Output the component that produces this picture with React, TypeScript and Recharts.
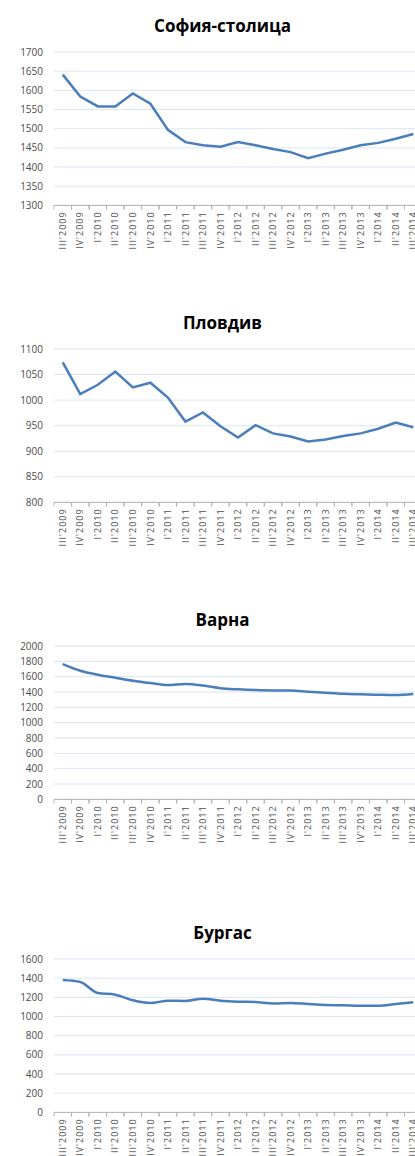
import { CartesianGrid, Line, LineChart, XAxis, YAxis } from "recharts";

const quarters = [
  "III'2009", "IV'2009",
  "I'2010", "II'2010", "III'2010", "IV'2010",
  "I'2011", "II'2011", "III'2011", "IV'2011",
  "I'2012", "II'2012", "III'2012", "IV'2012",
  "I'2013", "II'2013", "III'2013", "IV'2013",
  "I'2014", "II'2014", "III'2014"
];

const sofia = [1641, 1584, 1558, 1558, 1592, 1565, 1497, 1465, 1457, 1453, 1465, 1457, 1447, 1439, 1423, 1435, 1445, 1457, 1463, 1474, 1486];
const plovdiv = [1074, 1012, 1030, 1056, 1025, 1034, 1005, 958, 976, 949, 927, 951, 935, 929, 919, 923, 930, 935, 944, 956, 947];
const varna = [1765, 1678, 1626, 1587, 1548, 1517, 1490, 1505, 1485, 1450, 1435, 1425, 1420, 1420, 1405, 1390, 1376, 1370, 1365, 1362, 1375];
const burgas = [1381, 1360, 1245, 1228, 1169, 1141, 1165, 1162, 1186, 1165, 1155, 1151, 1137, 1141, 1130, 1120, 1117, 1113, 1113, 1130, 1148];

const sofiaTicks = [1300, 1350, 1400, 1450, 1500, 1550, 1600, 1650, 1700];
const plovdivTicks = [800, 850, 900, 950, 1000, 1050, 1100];
const varnaTicks = [0, 200, 400, 600, 800, 1000, 1200, 1400, 1600, 1800, 2000];
const burgasTicks = [0, 200, 400, 600, 800, 1000, 1200, 1400, 1600];

const LINE = "#4a7ebb";
const GRID = "#dbe5f1";
const AXIS = "#b3b3b3";
const LABEL = "#4d4d4d";
const STEP = 17.5;

// Excel-style category tick: marks sit between categories, label rotated
function QuarterTick(props: any) {
  const { x, y, payload } = props;
  return (
    <g>
      <line x1={x - STEP / 2} y1={y} x2={x - STEP / 2} y2={y + 4} stroke={AXIS} />
      <line x1={x + STEP / 2} y1={y} x2={x + STEP / 2} y2={y + 4} stroke={AXIS} />
      <text
        x={x}
        y={y + 6}
        transform={`rotate(-90, ${x}, ${y + 6})`}
        textAnchor="end"
        dy="0.35em"
        fill={LABEL}
        fontSize={9}
        letterSpacing={1}
        fontFamily="Open Sans"
      >
        {payload.value}
      </text>
    </g>
  );
}

function Panel({ title, values, ticks, plotTop, curve }: {
  title: string;
  values: number[];
  ticks: number[];
  plotTop: number;
  curve: "linear" | "monotone";
}) {
  const data = quarters.map((q, i) => ({ q, v: values[i] }));
  return (
    <>
      <div
        style={{
          position: "absolute",
          left: 0,
          width: 445,
          top: plotTop - 26 - 12,
          height: 24,
          lineHeight: "24px",
          textAlign: "center",
          fontFamily: "Open Sans",
          fontWeight: 700,
          fontSize: 17,
          color: "#000"
        }}
      >
        {title}
      </div>
      <div style={{ position: "absolute", left: 0, top: plotTop - 10 }}>
        <LineChart width={422} height={213.4} data={data} margin={{ top: 10, right: 0, left: 0, bottom: 0 }}>
          <CartesianGrid horizontal vertical={false} stroke={GRID} />
          <XAxis
            dataKey="q"
            interval={0}
            height={50}
            padding={{ left: STEP / 2, right: STEP / 2 }}
            axisLine={{ stroke: AXIS }}
            tickLine={false}
            tickSize={0}
            tickMargin={0}
            tick={<QuarterTick />}
          />
          <YAxis
            width={54}
            domain={[ticks[0], ticks[ticks.length - 1]]}
            ticks={ticks}
            interval={0}
            axisLine={false}
            tickLine={false}
            tickSize={0}
            tickMargin={11}
            tick={{ fill: LABEL, fontSize: 10, fontFamily: "Open Sans" }}
          />
          <Line
            type={curve}
            dataKey="v"
            stroke={LINE}
            strokeWidth={2.5}
            dot={false}
            isAnimationActive={false}
          />
        </LineChart>
      </div>
    </>
  );
}

export default function App() {
  return (
    <div
      style={{
        position: "absolute",
        left: 0,
        top: 0,
        width: 415,
        height: 1156,
        overflow: "hidden",
        background: "#fff"
      }}
    >
      <Panel title="София-столица" values={sofia} ticks={sofiaTicks} plotTop={52.3} curve="linear" />
      <Panel title="Пловдив" values={plovdiv} ticks={plovdivTicks} plotTop={349.3} curve="linear" />
      <Panel title="Варна" values={varna} ticks={varnaTicks} plotTop={646} curve="monotone" />
      <Panel title="Бургас" values={burgas} ticks={burgasTicks} plotTop={959.3} curve="monotone" />
    </div>
  );
}
